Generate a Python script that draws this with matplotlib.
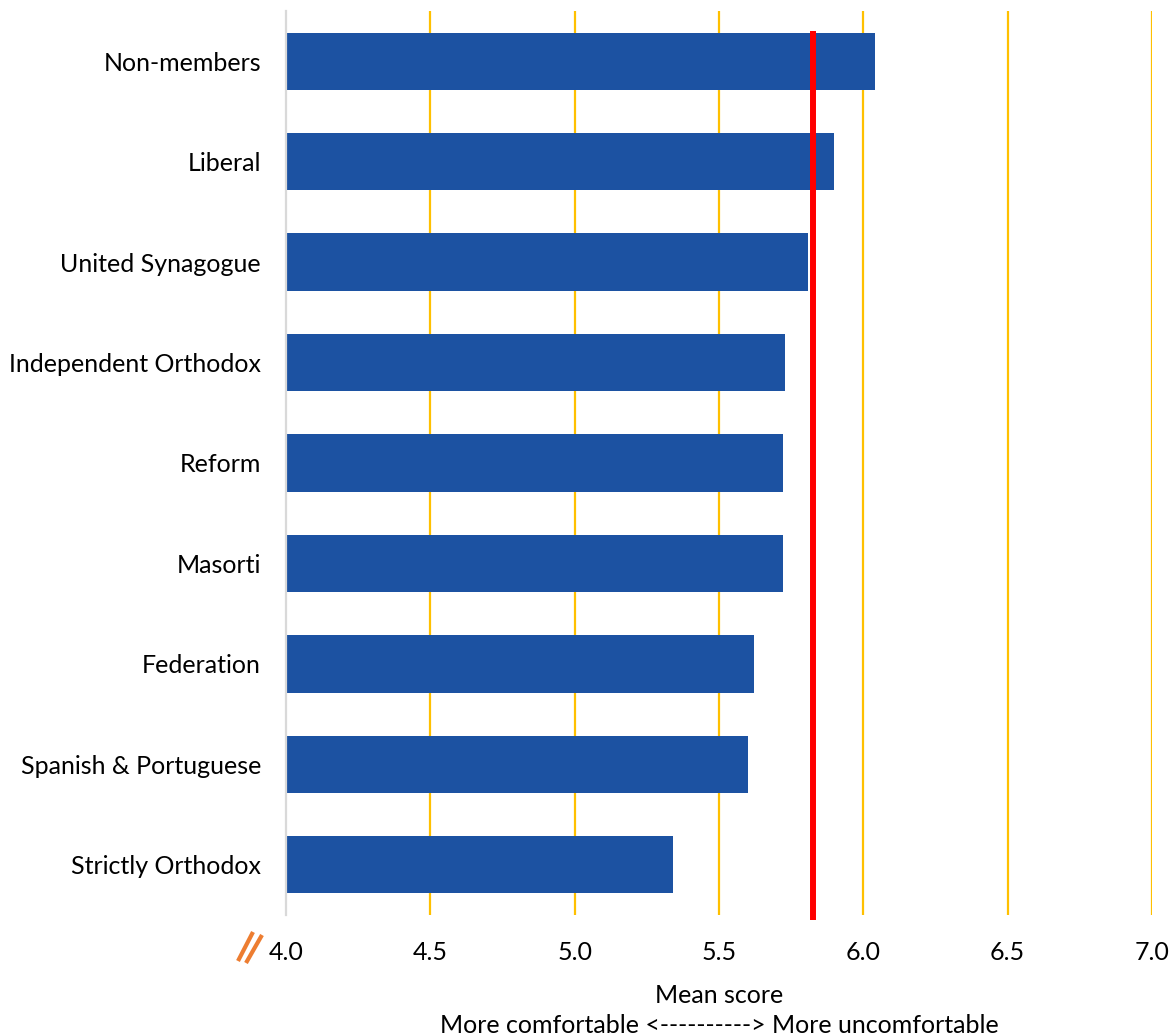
import matplotlib
matplotlib.use("Agg")
import matplotlib.pyplot as plt
from matplotlib.lines import Line2D

# Mean score per synagogue membership group (top to bottom)
groups = ["Non-members", "Liberal", "United Synagogue", "Independent Orthodox",
          "Reform", "Masorti", "Federation", "Spanish & Portuguese",
          "Strictly Orthodox"]
scores = [6.04, 5.90, 5.81, 5.73, 5.72, 5.72, 5.62, 5.60, 5.34]
overall_mean = 5.825
xticks = [4.0, 4.5, 5.0, 5.5, 6.0, 6.5, 7.0]

BAR = "#1C52A2"
GRID = "#FFC000"
RED = "#FF0000"

plt.rcParams.update({
    "font.family": ["Lato", "DejaVu Sans"],
    "font.size": 18,
})

fig = plt.figure(figsize=(11.73, 10.36), dpi=100)
ax = fig.add_axes([286 / 1173, 1 - 915 / 1036, 866 / 1173, 904 / 1036])

ypos = list(range(len(groups)))
for x in xticks[1:]:
    ax.axvline(x, color=GRID, linewidth=1.6, zorder=0)
ax.barh(ypos, scores, left=0, height=0.57, color=BAR, zorder=2)

ax.plot([overall_mean, overall_mean], [-0.30, 8.55], color=RED,
        linewidth=4.3, solid_capstyle="butt", zorder=3, clip_on=False)

ax.set_xlim(4.0, 7.0)
ax.set_ylim(8.5, -0.5)
ax.set_xticks(xticks)
ax.set_xticklabels([f"{t:.1f}" for t in xticks])
ax.set_yticks(ypos)
ax.set_yticklabels(groups)
ax.tick_params(axis="both", length=0, colors="#000000")
ax.tick_params(axis="x", pad=19)
ax.tick_params(axis="y", pad=18)

for s in ["top", "right", "bottom"]:
    ax.spines[s].set_visible(False)
ax.spines["left"].set_color("#D9D9D9")
ax.spines["left"].set_linewidth(1.6)

ax.set_xlabel("Mean score\nMore comfortable <----------> More uncomfortable",
              labelpad=14, linespacing=1.4)

# axis break mark next to the 4.0 label
W, H = 1173, 1036
for (x0, y0, x1, y1) in [(238, 961, 253, 932), (246, 963, 262, 935)]:
    fig.add_artist(Line2D([x0 / W, x1 / W], [1 - y0 / H, 1 - y1 / H],
                          color="#ED7D31", linewidth=3.0,
                          solid_capstyle="butt"))

fig.savefig("out.png", dpi=100)
